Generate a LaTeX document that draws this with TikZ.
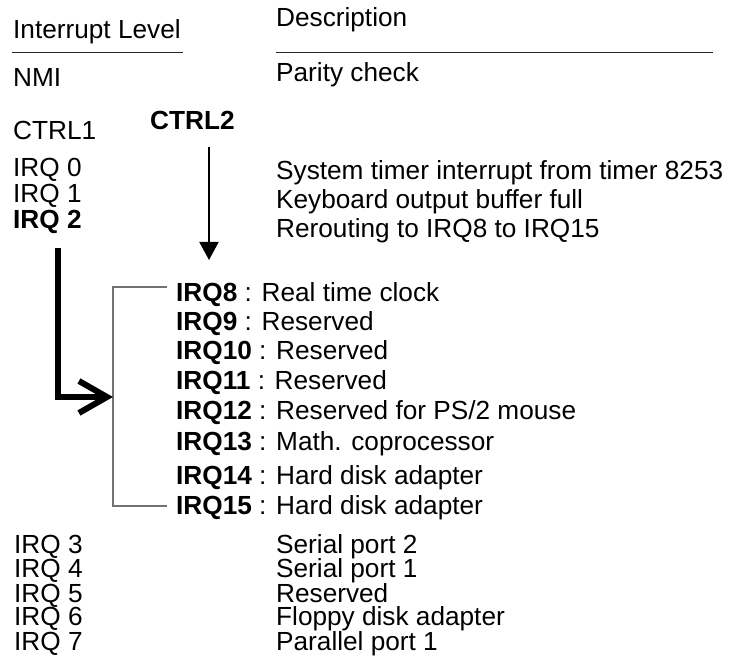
\documentclass[tikz,border=0pt]{standalone}
\usepackage{fontspec}
\setmainfont{Liberation Sans}
\usetikzlibrary{arrows.meta}
\begin{document}
\begin{tikzpicture}[x=1pt,y=-1pt,
  txt/.style={anchor=base west,inner sep=0pt,font=\fontsize{26.2}{30}\selectfont},
  btxt/.style={txt,font=\fontsize{26.2}{30}\selectfont\bfseries},
  rule/.style={line width=1pt,black!85},
  bracket/.style={line width=1.1pt,black!55},
  thinarrow/.style={line width=2pt,-{Triangle[length=18pt,width=19pt]}},
  thickarrow/.style={line width=6pt,-{Straight Barb[length=28pt,width=32pt]}}]
\useasboundingbox (0,0) rectangle (732,668);
% headers
\node[txt] (hl) at (13,39) {Interrupt Level};
\node[txt] (hd) at (276,27) {Description};
\coordinate (l1a) at (12,53); \coordinate (l1b) at (183,53);
\coordinate (l2a) at (276,53); \coordinate (l2b) at (713,53);
\draw[rule] (l1a) -- (l1b);
\draw[rule] (l2a) -- (l2b);
% rows
\node[txt] (nmi) at (13,87) {NMI};
\node[txt] (par) at (276,82) {Parity check};
\node[txt] (c1) at (13,140) {CTRL1};
\node[btxt] (c2) at (150,130) {CTRL2};
\node[txt] (i0) at (13,177) {IRQ 0};
\node[txt] (i1) at (13,203) {IRQ 1};
\node[btxt] (i2) at (13,229) {IRQ 2};
\node[txt] (d0) at (276,180) {System timer interrupt from timer 8253};
\node[txt] (d1) at (276,209) {Keyboard output buffer full};
\node[txt] (d2) at (276,238) {Rerouting to IRQ8 to IRQ15};
% cascaded controller
\node[txt] (q8)  at (176,302) {\textbf{IRQ8} : Real time clock};
\node[txt] (q9)  at (176,331) {\textbf{IRQ9} : Reserved};
\node[txt] (q10) at (176,360) {\textbf{IRQ10} : Reserved};
\node[txt] (q11) at (176,390) {\textbf{IRQ11} : Reserved};
\node[txt] (q12) at (176,420) {\textbf{IRQ12} : Reserved for PS/2 mouse};
\node[txt] (q13) at (176,451) {\textbf{IRQ13} : Math. coprocessor};
\node[txt] (q14) at (176,485) {\textbf{IRQ14} : Hard disk adapter};
\node[txt] (q15) at (176,515) {\textbf{IRQ15} : Hard disk adapter};
% lower rows
\node[txt] (i3) at (14,554) {IRQ 3};
\node[txt] (i4) at (14,578) {IRQ 4};
\node[txt] (i5) at (14,602) {IRQ 5};
\node[txt] (i6) at (14,626) {IRQ 6};
\node[txt] (i7) at (14,650) {IRQ 7};
\node[txt] (d3) at (276,554) {Serial port 2};
\node[txt] (d4) at (276,578) {Serial port 1};
\node[txt] (d5) at (276,602) {Reserved};
\node[txt] (d6) at (276,626) {Floppy disk adapter};
\node[txt] (d7) at (276,650) {Parallel port 1};
% bracket
\coordinate (bt) at (167,287); \coordinate (bb) at (167,506);
\coordinate (bm) at (113,397);
\draw[bracket] (bt) -| (bb -| bm) -- (bb);
% arrows
\coordinate (a1) at (209,147); \coordinate (a2) at (209,260);
\draw[thinarrow] (a1) -- (a2);
\coordinate (t1) at (58,248);
\draw[thickarrow] (t1) |- (bm);
\end{tikzpicture}
\end{document}
